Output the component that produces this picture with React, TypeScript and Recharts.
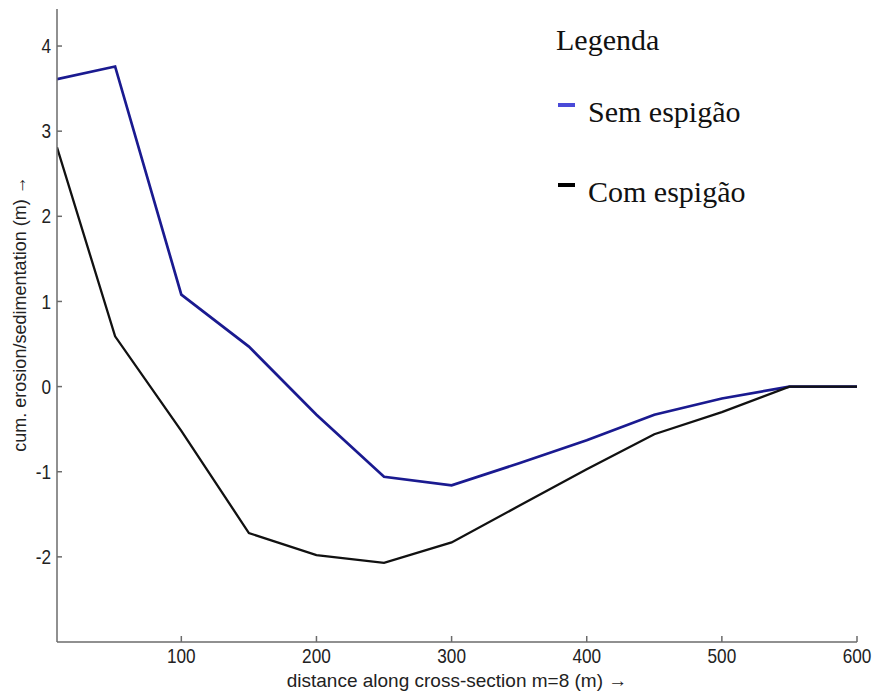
import { LineChart, Line, XAxis, YAxis } from "recharts";

// distances along the cross-section (m)
const distances = [8, 51, 100, 150, 200, 250, 300, 350, 400, 450, 500, 550, 600];
// cumulative erosion/sedimentation (m)
const semEspigao = [3.61, 3.76, 1.08, 0.47, -0.33, -1.06, -1.16, -0.9, -0.63, -0.33, -0.14, 0, 0];
const comEspigao = [2.81, 0.59, -0.52, -1.72, -1.98, -2.07, -1.83, -1.4, -0.97, -0.56, -0.3, 0, 0];

const xTicks = [100, 200, 300, 400, 500, 600];
const yTicks = [-2, -1, 0, 1, 2, 3, 4];

const data = distances.map((d, i) => ({
    dist: d,
    sem: semEspigao[i],
    com: comEspigao[i],
}));

const sans = "'Liberation Sans', Arial, Helvetica, sans-serif";
const serif = "'Liberation Serif', 'Times New Roman', serif";
const axisColor = "#6b6b6b";

const W = 866;
const H = 685;

// narrow-looking tick labels (the original uses a condensed Helvetica)
const XTick = (props: any) => {
    const { x, y, payload } = props;
    return (
        <text
            transform={`translate(${x},${y}) scale(0.86,1)`}
            textAnchor="middle"
            dy="0.71em"
            fontSize={20}
            fontFamily={sans}
            fill="#222"
        >
            {payload.value}
        </text>
    );
};

const YTick = (props: any) => {
    const { x, y, payload } = props;
    return (
        <text
            transform={`translate(${x},${y}) scale(0.86,1)`}
            textAnchor="end"
            dy="0.355em"
            fontSize={20}
            fontFamily={sans}
            fill="#222"
        >
            {payload.value}
        </text>
    );
};

export default function App() {
    return (
        <div style={{ padding: "8px 0 0 8px", width: W + 8, height: H + 8, boxSizing: "border-box" }}>
            {/* chart fills the window edge to edge: no body margin, no scrollbars */}
            <style>{"html,body{margin:0;overflow:hidden}"}</style>
            <div style={{ position: "relative", width: W, height: H }}>
                <LineChart
                    width={W}
                    height={H}
                    data={data}
                    margin={{ top: 1, right: 17, left: 0, bottom: 0 }}
                >
                    <XAxis
                        dataKey="dist"
                        type="number"
                        domain={[8, 600]}
                        ticks={xTicks}
                        allowDataOverflow
                        height={51}
                        tickSize={-6}
                        tickMargin={13}
                        stroke={axisColor}
                        strokeWidth={1.5}
                        tick={<XTick />}
                    />
                    <YAxis
                        type="number"
                        domain={[-3, 4.435]}
                        ticks={yTicks}
                        allowDataOverflow
                        width={49}
                        tickSize={-5}
                        tickMargin={11}
                        stroke={axisColor}
                        strokeWidth={1.5}
                        tick={<YTick />}
                    />
                    <Line
                        type="linear"
                        dataKey="sem"
                        stroke="#1a1a90"
                        strokeWidth={2.7}
                        dot={false}
                        activeDot={false}
                        isAnimationActive={false}
                    />
                    <Line
                        type="linear"
                        dataKey="com"
                        stroke="#111111"
                        strokeWidth={2.3}
                        dot={false}
                        activeDot={false}
                        isAnimationActive={false}
                    />
                </LineChart>
                {/* axis titles + legend box */}
                <svg
                    width={W}
                    height={H}
                    style={{ position: "absolute", left: 0, top: 0, pointerEvents: "none" }}
                >
                    <text
                        x={449}
                        y={679}
                        textAnchor="middle"
                        fontSize={19}
                        fontFamily={sans}
                        fill="#222"
                    >
                        distance along cross-section m=8 (m) →
                    </text>
                    <text
                        transform="translate(18, 306) rotate(-90) scale(0.95,1)"
                        textAnchor="middle"
                        fontSize={19}
                        fontFamily={sans}
                        fill="#222"
                    >
                        cum. erosion/sedimentation (m) →
                    </text>
                    <text x={548} y={42} fontSize={30} fontFamily={serif} fill="#111">
                        Legenda
                    </text>
                    <rect x={550} y={95} width={17} height={4} fill="#4a4ad8" />
                    <text x={580} y={114} fontSize={30} fontFamily={serif} fill="#111">
                        Sem espigão
                    </text>
                    <rect x={550} y={175} width={17} height={4} fill="#000" />
                    <text x={580} y={194} fontSize={30} fontFamily={serif} fill="#111">
                        Com espigão
                    </text>
                </svg>
            </div>
        </div>
    );
}
